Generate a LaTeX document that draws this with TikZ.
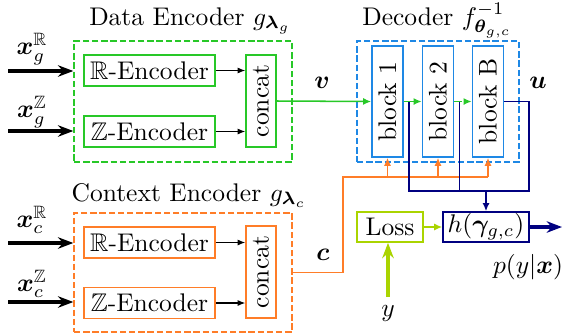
\documentclass[tikz,border=0pt]{standalone}
\usepackage{amsmath}
\usepackage{amssymb}
\usepackage{bm}
\usetikzlibrary{arrows.meta,positioning}

\definecolor{encgreen}{RGB}{40,200,40}
\definecolor{decblue}{RGB}{30,136,229}
\definecolor{ctxorange}{RGB}{255,125,40}
\definecolor{losslime}{RGB}{170,212,0}
\definecolor{outnavy}{RGB}{0,0,128}

\begin{document}
\begin{tikzpicture}[x=0.392pt,y=-0.392pt,
    box/.style={draw, line width=0.6pt, inner sep=0pt},
    encbox/.style={box, minimum width=51.4pt, minimum height=12.2pt},
    catbox/.style={box, rotate=90, minimum width=36pt, minimum height=11.8pt},
    blockbox/.style={box, draw=decblue, rotate=90, minimum width=43.5pt, minimum height=12.2pt},
    frame/.style={draw, dash pattern=on 2.5pt off 1.1pt, line width=0.5pt, inner sep=0pt},
    title/.style={anchor=base},
    inarrow/.style={line width=1.2pt, -{Stealth[length=6pt,width=4.5pt]}},
    thinarrow/.style={line width=0.4pt, -{Latex[length=3pt,width=2.4pt]}},
    colarrow/.style={line width=0.6pt, -{Latex[length=3.2pt,width=2.8pt]}}]

  \useasboundingbox (0,0) rectangle (563,334);

  % Data encoder
  \node[frame, draw=encgreen, minimum width=85.5pt, minimum height=47.4pt] (databox) at (183,101.5) {};
  \node[title] at (190,25) {Data Encoder $g_{\bm{\lambda}_g}$};
  \node[encbox, draw=encgreen] (encRg) at (149.5,70.5) {$\mathbb{R}$-Encoder};
  \node[encbox, draw=encgreen] (encZg) at (149.5,131.5) {$\mathbb{Z}$-Encoder};
  \node[catbox, draw=encgreen] (catg) at (261,101) {concat};
  \draw[thinarrow] (encRg.east) -- (encRg.east -| catg.north);
  \draw[thinarrow] (encZg.east) -- (encZg.east -| catg.north);

  % Context encoder
  \node[frame, draw=ctxorange, minimum width=85.5pt, minimum height=46.7pt] (ctxbox) at (183,272.5) {};
  \node[title] at (189,201) {Context Encoder $g_{\bm{\lambda}_c}$};
  \node[encbox, draw=ctxorange] (encRc) at (149.5,242.5) {$\mathbb{R}$-Encoder};
  \node[encbox, draw=ctxorange] (encZc) at (149.5,303) {$\mathbb{Z}$-Encoder};
  \node[catbox, draw=ctxorange] (catc) at (261,272) {concat};
  \draw[thinarrow] (encRc.east) -- (encRc.east -| catc.north);
  \draw[thinarrow] (encZc.east) -- (encZc.east -| catc.north);

  % Inputs
  \coordinate (xgR) at (8,71);
  \coordinate (xgZ) at (8,131);
  \coordinate (xcR) at (8,243);
  \coordinate (xcZ) at (8,302);
  \draw[inarrow] (xgR) -- (xgR -| databox.west);
  \draw[inarrow] (xgZ) -- (xgZ -| databox.west);
  \draw[inarrow] (xcR) -- (xcR -| ctxbox.west);
  \draw[inarrow] (xcZ) -- (xcZ -| ctxbox.west);
  \node at (32,49) {$\bm{x}_g^{\mathbb{R}}$};
  \node at (32,112) {$\bm{x}_g^{\mathbb{Z}}$};
  \node at (32,220) {$\bm{x}_c^{\mathbb{R}}$};
  \node at (32,284) {$\bm{x}_c^{\mathbb{Z}}$};

  % Decoder
  \node[frame, draw=decblue, minimum width=63.5pt, minimum height=47.4pt] (decbox) at (438,101.5) {};
  \node[title] at (437,25) {Decoder $f^{-1}_{\bm{\theta}_{g,c}}$};
  \node[blockbox] (block1) at (387.5,101.5) {block 1};
  \node[blockbox] (block2) at (438,101.5) {block 2};
  \node[blockbox] (blockB) at (488,101.5) {block B};

  % Latent v through the blocks
  \draw[colarrow, encgreen] (catg.south) -- (block1.north);
  \draw[colarrow, encgreen] (block1.south) -- (block2.north);
  \draw[colarrow, encgreen, dash dot] (block2.south) -- (blockB.north);
  \node at (322,83) {$\bm{v}$};
  \node at (538,83) {$\bm{u}$};

  % Context c into every block
  \coordinate (cbus) at (343,177);
  \draw[line width=0.6pt, ctxorange] (ctxbox.east) -| (cbus) -- (cbus -| blockB.west);
  \draw[colarrow, ctxorange] (cbus -| block1.west) -- (block1.west);
  \draw[colarrow, ctxorange] (cbus -| block2.west) -- (block2.west);
  \draw[colarrow, ctxorange] (cbus -| blockB.west) -- (blockB.west);
  \node at (323,255) {$\bm{c}$};

  % Outputs of the blocks to h
  \node[box, draw=outnavy, minimum width=33.7pt, minimum height=11.8pt] (hbox) at (486,227) {$h(\bm{\gamma}_{g,c})$};
  \coordinate (ubus) at (529,191);
  \draw[line width=0.6pt, outnavy] (blockB.south) -| (ubus) -- ([xshift=2pt]block1.south |- ubus) -- ([xshift=2pt]block1.south);
  \draw[line width=0.6pt, outnavy] ([xshift=2pt]block2.south) -- ([xshift=2pt]block2.south |- ubus);
  \draw[colarrow, outnavy] (hbox.north |- ubus) -- (hbox.north);
  \coordinate (pout) at (562,227);
  \draw[inarrow, outnavy] (hbox.east) -- (pout);
  \node at (528,267) {$p(y|\bm{x})$};

  % Loss
  \node[box, draw=losslime, minimum width=25.9pt, minimum height=11.8pt] (loss) at (390,227) {Loss};
  \draw[colarrow, losslime] (loss.east) -- (hbox.west);
  \coordinate (yin) at (388,297);
  \draw[inarrow, losslime] (yin) -- (yin |- loss.south);
  \node at (388,313) {$y$};

\end{tikzpicture}
\end{document}
